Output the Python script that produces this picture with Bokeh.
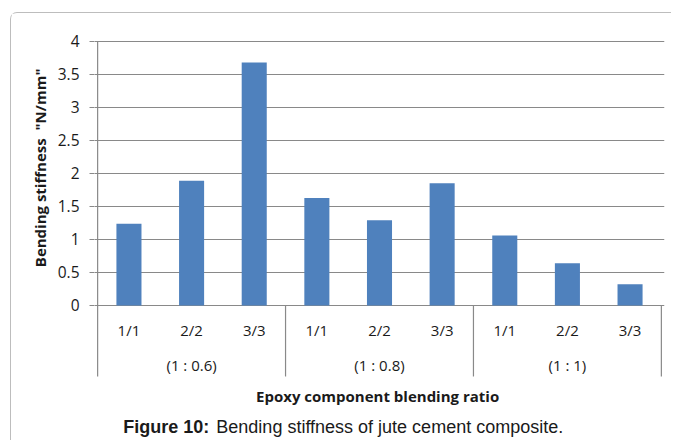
from bokeh.plotting import figure
from bokeh.models import (FactorRange, Range1d, FixedTicker, Title,
                          ColumnDataSource, CustomJSTickFormatter)
from bokeh.core.properties import value
from bokeh.embed import file_html
from bokeh.resources import INLINE

# ---- data ----
groups = ["(1 : 0.6)", "(1 : 0.8)", "(1 : 1)"]
subs = ["1/1", "2/2", "3/3"]
stiffness = [1.24, 1.89, 3.68, 1.63, 1.29, 1.85, 1.06, 0.64, 0.32]
y_ticks = [0, 0.5, 1, 1.5, 2, 2.5, 3, 3.5, 4]
y_tick_labels = ["0", "0.5", "1", "1.5", "2", "2.5", "3", "3.5", "4"]
y_title = 'Bending stiffness\u00a0 "N/mm"'
x_title = "Epoxy component blending ratio"
caption_bold = "Figure 10:"
caption_rest = "Bending stiffness of jute cement composite."

factors = [(g, s) for g in groups for s in subs]

GRID = "#898989"
BAR = "#4F81BD"
TXT = "#1a1a1a"
FONT = "Open Sans"

p = figure(
    width=661, height=428,
    x_range=FactorRange(factors=factors, factor_padding=0, group_padding=0,
                        subgroup_padding=0, range_padding=0.05,
                        range_padding_units="absolute"),
    y_range=Range1d(-2.061, 4.045),
    output_backend="svg", toolbar_location=None, x_axis_location=None,
    min_border_left=83, min_border_top=25, min_border_right=8,
    min_border_bottom=0,
)
p.styles = {"margin-left": "10px", "margin-top": "12px",
            "border-left": "1px solid #bdbdbd",
            "border-top": "1px solid #bdbdbd",
            "border-top-left-radius": "7px"}
p.outline_line_color = None
p.background_fill_color = "white"
p.border_fill_color = "white"

# y axis
yax = p.yaxis[0]
yax.ticker = FixedTicker(ticks=y_ticks)
yax.formatter = CustomJSTickFormatter(
    args=dict(tvals=y_ticks, tlabels=y_tick_labels),
    code="const i = tvals.indexOf(tick); return i >= 0 ? tlabels[i] : String(tick);")
yax.axis_line_color = None
yax.major_tick_line_color = GRID
yax.major_tick_line_width = 1.2
yax.major_tick_out = 5
yax.major_tick_in = 0
yax.minor_tick_line_color = None
yax.major_label_standoff = 10
yax.major_label_text_font = FONT
yax.major_label_text_font_size = "15.5px"
yax.major_label_text_color = TXT

p.xgrid.visible = False
p.ygrid.ticker = FixedTicker(ticks=y_ticks)
p.ygrid.grid_line_color = GRID
p.ygrid.grid_line_width = 1.2

# y title (left side)
p.add_layout(Title(text=y_title, align="right", offset=30,
                   text_font=FONT, text_font_size="15px",
                   text_font_style="bold", text_color=TXT,
                   standoff=10), "left")

# bars
src = ColumnDataSource(dict(x=factors, top=stiffness,
                            sub=[s for g in groups for s in subs]))
p.vbar(x="x", top="top", width=0.4, source=src, fill_color=BAR,
       line_color=None)

# axis line and group separators
n = len(subs)
bounds = [i * n for i in range(len(groups) + 1)]
p.segment(x0=bounds, y0=[-1.076] * len(bounds), x1=bounds,
          y1=[0] * len(bounds), line_color=GRID, line_width=1.2)
p.segment(x0=[0], y0=[0], x1=[0], y1=[max(y_ticks)], line_color=GRID,
          line_width=1.2)

# category labels
p.text(x="x", y=-0.379, text="sub", source=src, text_align="center",
       text_baseline="alphabetic", text_font=value(FONT),
       text_font_size="15px", text_color=TXT)
p.text(x=groups, y=[-0.909] * len(groups), text=groups, text_align="center",
       text_baseline="alphabetic", text_font=value(FONT),
       text_font_size="15px", text_color=TXT)

# axis title
p.text(x=[4.47], y=[-1.379], text=[x_title], text_align="center",
       text_baseline="alphabetic", text_font=value(FONT),
       text_font_size="15px", text_font_style="bold", text_color=TXT)

# caption
p.text(x=[0.408], y=[-1.848], text=[caption_bold], text_align="left",
       text_baseline="alphabetic", text_font=value("Liberation Sans"),
       text_font_size="18px", text_font_style="bold", text_color=TXT)
p.text(x=[1.895], y=[-1.848], text=[caption_rest], text_align="left",
       text_baseline="alphabetic", text_font=value("Liberation Sans"),
       text_font_size="18px", text_color=TXT)

open("out.html", "w").write(file_html(p, INLINE))
